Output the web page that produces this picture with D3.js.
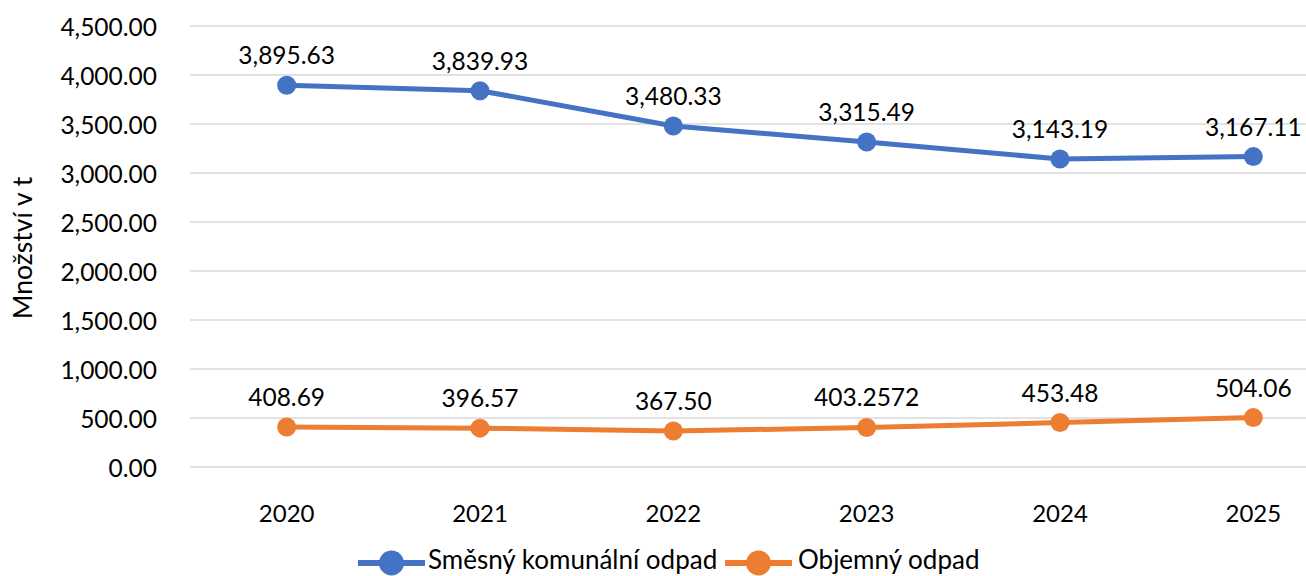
<!DOCTYPE html>
<html>
<head>
<meta charset="utf-8">
<script src="https://cdn.jsdelivr.net/npm/d3@7"></script>
<style>
html,body{margin:0;padding:0;background:#fff;}
svg text{font-family:Lato,"Noto Sans",sans-serif;fill:#000;}
</style>
</head>
<body>
<svg id="c" width="1306" height="576"></svg>
<script>
const categories = ["2020","2021","2022","2023","2024","2025"];
const seriesNames = ["Směsný komunální odpad","Objemný odpad"];
const mixedWaste = [3895.63, 3839.93, 3480.33, 3315.49, 3143.19, 3167.11];
const bulkyWaste = [408.69, 396.57, 367.50, 403.2572, 453.48, 504.06];
const mixedLabels = ["3,895.63","3,839.93","3,480.33","3,315.49","3,143.19","3,167.11"];
const bulkyLabels = ["408.69","396.57","367.50","403.2572","453.48","504.06"];
const yTicks = [0,500,1000,1500,2000,2500,3000,3500,4000,4500];
const yTitle = "Množství v t";
const colors = ["#4472C4","#ED7D31"];

const svg = d3.select("#c");
const x = d3.scaleBand().domain(categories).range([190, 1350]);
const y = d3.scaleLinear().domain([0,4500]).range([467, 26]);
const fs = 24.5;

// gridlines
svg.append("g").selectAll("line").data(yTicks).join("line")
  .attr("x1",190).attr("x2",1306)
  .attr("y1",d=>y(d)).attr("y2",d=>y(d))
  .attr("stroke","#d9d9d9").attr("stroke-width",1.5);

// y axis labels
const yAxis = d3.axisLeft(y).tickValues(yTicks).tickFormat(d3.format(",.2f")).tickSize(0).tickPadding(0);
const ya = svg.append("g").attr("transform","translate(157,0)").call(yAxis);
ya.select(".domain").remove();
ya.selectAll("text").attr("font-size",fs).attr("font-family","Lato").attr("fill","#000").attr("dy","0.4em");

// x axis labels
const xAxis = d3.axisBottom(x).tickSize(0).tickPadding(0);
const xa = svg.append("g").attr("transform","translate(0,505)").call(xAxis);
xa.select(".domain").remove();
xa.selectAll("text").attr("font-size",24).attr("font-family","Lato").attr("fill","#000").attr("dy","0.71em");

// y title
svg.append("text").attr("transform","translate(32,248) rotate(-90)")
  .attr("text-anchor","middle").attr("font-size",26.5).text(yTitle);

const series = [
  {name:seriesNames[0], values:mixedWaste, labels:mixedLabels, color:colors[0]},
  {name:seriesNames[1], values:bulkyWaste, labels:bulkyLabels, color:colors[1]}
];
const cx = c => x(c) + x.bandwidth()/2;
const line = d3.line().x((d,i)=>cx(categories[i])).y(d=>y(d));

series.forEach(s=>{
  const g = svg.append("g");
  g.append("path").datum(s.values).attr("d",line).attr("fill","none")
    .attr("stroke",s.color).attr("stroke-width",5).attr("stroke-linejoin","round");
  g.selectAll("circle").data(s.values).join("circle")
    .attr("cx",(d,i)=>cx(categories[i])).attr("cy",d=>y(d)).attr("r",9.5).attr("fill",s.color);
  g.selectAll("text").data(s.values).join("text")
    .attr("x",(d,i)=>cx(categories[i])).attr("y",d=>y(d)-21)
    .attr("text-anchor","middle").attr("font-size",fs).text((d,i)=>s.labels[i]);
});

// legend
const legendItems = [
  {name:seriesNames[0], color:colors[0], x0:358, x1:425, tx:428},
  {name:seriesNames[1], color:colors[1], x0:725, x1:792, tx:798}
];
const lg = svg.append("g");
legendItems.forEach(it=>{
  lg.append("line").attr("x1",it.x0).attr("x2",it.x1).attr("y1",563).attr("y2",563)
    .attr("stroke",it.color).attr("stroke-width",6);
  lg.append("circle").attr("cx",(it.x0+it.x1)/2).attr("cy",563).attr("r",12.5).attr("fill",it.color);
  lg.append("text").attr("x",it.tx).attr("y",569).attr("font-size",26).text(it.name);
});
</script>
</body>
</html>
